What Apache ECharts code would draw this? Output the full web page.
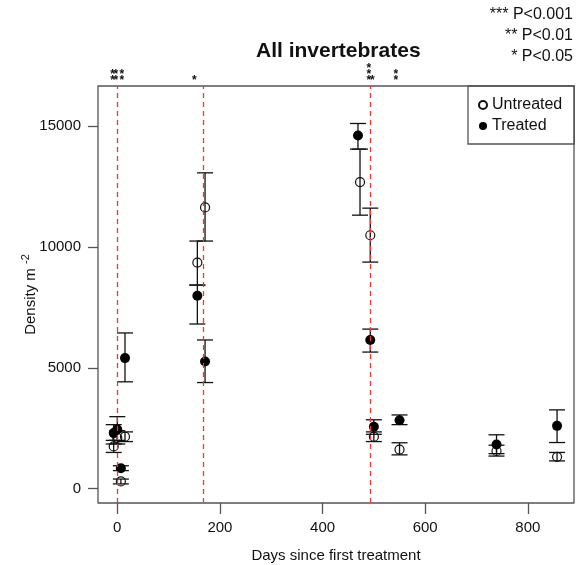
<!DOCTYPE html>
<html>
<head>
<meta charset="utf-8">
<script src="https://cdn.jsdelivr.net/npm/echarts@6/dist/echarts.min.js"></script>
<style>
  html, body { margin: 0; padding: 0; background: #fff; }
  #chart { width: 576px; height: 565px; }
</style>
</head>
<body>
<div id="chart"></div>
<script>
// Untreated plots (open circles)
const untreatedDays = [-7, 0, 7, 15, 156, 171, 473, 493, 500, 550, 739, 857];
const untreatedMean = [1750, 2100, 300, 2150, 9350, 11630, 12680, 10480, 2150, 1620, 1560, 1320];
const untreatedLow  = [1500, 1850, 200, 1950, 8420, 10240, 11310, 9370, 1950, 1400, 1350, 1150];
const untreatedHigh = [2000, 2400, 400, 2350, 10240, 13060, 14040, 11600, 2350, 1900, 1800, 1500];

// Treated plots (filled circles)
const treatedDays = [-7, 0, 7, 15, 156, 171, 469, 493, 500, 550, 739, 857];
const treatedMean = [2300, 2450, 850, 5400, 7980, 5260, 14600, 6150, 2560, 2830, 1830, 2600];
const treatedLow  = [1850, 2000, 750, 4420, 6810, 4390, 14040, 5650, 2250, 2650, 1450, 1910];
const treatedHigh = [2650, 2980, 950, 6440, 8420, 6150, 15100, 6600, 2850, 3050, 2230, 3260];

// treatment dates (red dashed lines)
const treatmentDays = [0, 168, 493];

// significance stars above the plot: day and number of stars
const sigDays  = [-9, -3, 9, 150, 490, 497, 543];
const sigStars = [2, 2, 2, 1, 3, 1, 2];

const xTicks = [0, 200, 400, 600, 800];
const yTicks = [0, 5000, 10000, 15000];

const pNotes = ['*** P<0.001', '** P<0.01', '* P<0.05'];

const FONT = 'Liberation Sans, Arial, sans-serif';

const chart = echarts.init(document.getElementById('chart'));

function zip(days, a, b) {
    return days.map((d, i) => b ? [d, a[i], b[i]] : [d, a[i]]);
}

function renderErrorBar(params, api) {
    const lo = api.coord([api.value(0), api.value(1)]);
    const hi = api.coord([api.value(0), api.value(2)]);
    const w = 8;
    const style = { stroke: '#111', lineWidth: 1.3 };
    return {
        type: 'group',
        children: [
            { type: 'line', shape: { x1: lo[0], y1: lo[1], x2: hi[0], y2: hi[1] }, style: style },
            { type: 'line', shape: { x1: lo[0] - w, y1: lo[1], x2: lo[0] + w, y2: lo[1] }, style: style },
            { type: 'line', shape: { x1: hi[0] - w, y1: hi[1], x2: hi[0] + w, y2: hi[1] }, style: style }
        ]
    };
}

function renderStars(params, api) {
    const p = api.coord([api.value(0), 0]);
    const top = params.coordSys.y;
    const n = api.value(1);
    const children = [];
    for (let i = 0; i < n; i++) {
        children.push({
            type: 'text',
            style: {
                text: '*', x: p[0], y: top + 1 - i * 6.4,
                align: 'center', verticalAlign: 'bottom',
                font: 'bold 12px ' + FONT, fill: '#111'
            }
        });
    }
    return { type: 'group', children: children };
}

const option = {
    animation: false,
    backgroundColor: '#fff',
    title: {
        text: 'All invertebrates',
        left: 251, top: 36,
        textStyle: { fontFamily: FONT, fontSize: 21, fontWeight: 'bold', color: '#111' }
    },
    graphic: pNotes.map((t, i) => ({
        type: 'text',
        right: 3, top: 7 + i * 21,
        style: { text: t, font: '16px ' + FONT, fill: '#111', align: 'right' }
    })),
    legend: {
        orient: 'vertical',
        left: 468, top: 86,
        padding: [11, 12, 10, 10],
        itemGap: 5,
        itemWidth: 8, itemHeight: 8,
        borderColor: '#555', borderWidth: 1.3,
        textStyle: { fontFamily: FONT, fontSize: 16, color: '#111' },
        data: ['Untreated', 'Treated']
    },
    grid: {
        left: 98, right: 2, top: 86, bottom: 62,
        outerBoundsMode: 'none',
        show: true, borderColor: '#555', borderWidth: 1.3, backgroundColor: 'transparent'
    },
    xAxis: {
        type: 'value', min: -37.6, max: 890,
        name: 'Days since first treatment', nameLocation: 'middle', nameGap: 45,
        nameMoveOverlap: false,
        nameTextStyle: { fontFamily: FONT, fontSize: 15, color: '#111' },
        splitLine: { show: false },
        axisLine: { show: false, onZero: false },
        axisTick: { show: true, inside: false, length: 11, customValues: xTicks, lineStyle: { color: '#555', width: 1.3 } },
        axisLabel: { customValues: xTicks, margin: 17, fontFamily: FONT, fontSize: 15, color: '#111' }
    },
    yAxis: {
        type: 'value', min: -590, max: 16650,
        name: '{a|Density m }{b|-2}', nameLocation: 'middle', nameGap: 57, nameRotate: 90,
        nameMoveOverlap: false,
        nameTextStyle: {
            rich: {
                a: { fontFamily: FONT, fontSize: 15, color: '#111' },
                b: { fontFamily: FONT, fontSize: 11, color: '#111', padding: [0, 0, 10, 0] }
            }
        },
        splitLine: { show: false },
        axisLine: { show: false, onZero: false },
        axisTick: { show: true, inside: false, length: 10, customValues: yTicks, lineStyle: { color: '#555', width: 1.3 } },
        axisLabel: {
            customValues: yTicks, margin: 17, fontFamily: FONT, fontSize: 15, color: '#111',
            formatter: v => String(v)
        }
    },
    series: [
        {
            type: 'scatter', name: 'treatments', data: [], silent: true,
            markLine: {
                symbol: 'none', silent: true, label: { show: false },
                lineStyle: { color: '#ff3030', type: [5, 4], width: 1.3 },
                data: treatmentDays.map(d => ({ xAxis: d }))
            }
        },
        {
            type: 'custom', name: 'untreatedErr', renderItem: renderErrorBar,
            data: zip(untreatedDays, untreatedLow, untreatedHigh), silent: true
        },
        {
            type: 'custom', name: 'treatedErr', renderItem: renderErrorBar,
            data: zip(treatedDays, treatedLow, treatedHigh), silent: true
        },
        {
            type: 'scatter', name: 'Untreated', symbol: 'circle', symbolSize: 9,
            itemStyle: { color: 'rgba(0,0,0,0)', borderColor: '#111', borderWidth: 1.2, opacity: 1 },
            data: zip(untreatedDays, untreatedMean)
        },
        {
            type: 'scatter', name: 'Treated', symbol: 'circle', symbolSize: 10,
            itemStyle: { color: '#000', opacity: 1 },
            data: zip(treatedDays, treatedMean)
        },
        {
            type: 'custom', name: 'sig', renderItem: renderStars, clip: false,
            data: zip(sigDays, sigStars), silent: true
        }
    ]
};

chart.setOption(option);

window.addEventListener('resize', function () {
    chart.resize();
});
</script>
</body>
</html>
